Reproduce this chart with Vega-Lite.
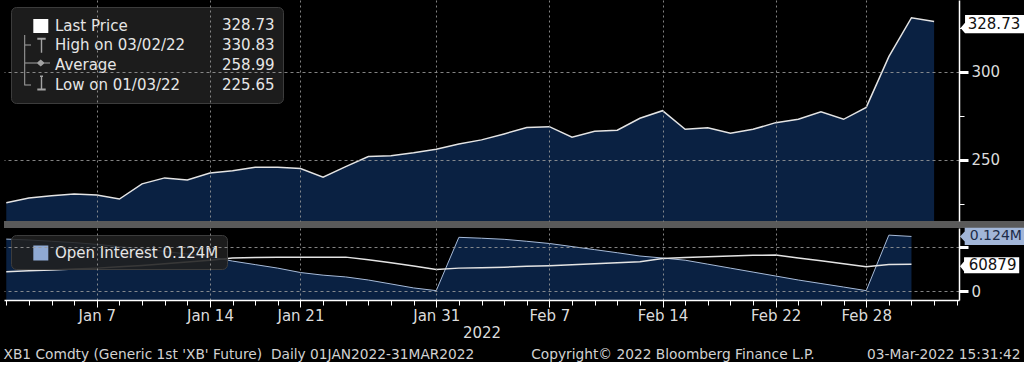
{
  "$schema": "https://vega.github.io/schema/vega-lite/v6.json",
  "background": "#000000",
  "padding": 0,
  "bounds": "flush",
  "spacing": 7,
  "config": {"font": "DejaVu Sans", "view": {"stroke": null}},
  "title": {
    "text": "XB1 Comdty (Generic 1st 'XB' Future)\u00a0\u00a0Daily 01JAN2022-31MAR2022\u00a0\u00a0\u00a0\u00a0\u00a0\u00a0\u00a0\u00a0\u00a0\u00a0\u00a0\u00a0\u00a0Copyright© 2022 Bloomberg Finance L.P.\u00a0\u00a0\u00a0\u00a0\u00a0\u00a0\u00a0\u00a0\u00a0\u00a0\u00a0\u00a003-Mar-2022 15:31:42",
    "orient": "bottom", "anchor": "start", "dx": 3, "offset": 8,
    "font": "DejaVu Sans", "fontSize": 13.75, "fontWeight": "normal", "color": "#d2d2d2"
  },
  "datasets": {
    "px": [
      {"date": "2022-01-03", "price": 225.65}, {"date": "2022-01-04", "price": 228.4}, {"date": "2022-01-05", "price": 229.7},
      {"date": "2022-01-06", "price": 230.7}, {"date": "2022-01-07", "price": 230.1}, {"date": "2022-01-10", "price": 227.8},
      {"date": "2022-01-11", "price": 236.4}, {"date": "2022-01-12", "price": 239.8}, {"date": "2022-01-13", "price": 238.6},
      {"date": "2022-01-14", "price": 242.6}, {"date": "2022-01-18", "price": 243.8}, {"date": "2022-01-19", "price": 245.9},
      {"date": "2022-01-20", "price": 245.9}, {"date": "2022-01-21", "price": 245.1}, {"date": "2022-01-24", "price": 240.2},
      {"date": "2022-01-25", "price": 246.2}, {"date": "2022-01-26", "price": 251.9}, {"date": "2022-01-27", "price": 252.4},
      {"date": "2022-01-28", "price": 254.1}, {"date": "2022-01-31", "price": 256.1}, {"date": "2022-02-01", "price": 259.1},
      {"date": "2022-02-02", "price": 261.4}, {"date": "2022-02-03", "price": 264.8}, {"date": "2022-02-04", "price": 268.4},
      {"date": "2022-02-07", "price": 268.9}, {"date": "2022-02-08", "price": 262.9}, {"date": "2022-02-09", "price": 266.3},
      {"date": "2022-02-10", "price": 266.9}, {"date": "2022-02-11", "price": 273.7}, {"date": "2022-02-14", "price": 278.0},
      {"date": "2022-02-15", "price": 267.4}, {"date": "2022-02-16", "price": 268.3}, {"date": "2022-02-17", "price": 265.2},
      {"date": "2022-02-18", "price": 267.4}, {"date": "2022-02-22", "price": 271.2}, {"date": "2022-02-23", "price": 273.1},
      {"date": "2022-02-24", "price": 277.4}, {"date": "2022-02-25", "price": 273.1}, {"date": "2022-02-28", "price": 279.9},
      {"date": "2022-03-01", "price": 308.7}, {"date": "2022-03-02", "price": 330.83}, {"date": "2022-03-03", "price": 328.73}
    ],
    "oi": [
      {"date": "2022-01-03", "oi": 118000, "oi2": 44000}, {"date": "2022-01-04", "oi": 116000, "oi2": 46000},
      {"date": "2022-01-05", "oi": 113000, "oi2": 48000}, {"date": "2022-01-06", "oi": 110000, "oi2": 50000},
      {"date": "2022-01-07", "oi": 106000, "oi2": 52000}, {"date": "2022-01-10", "oi": 101000, "oi2": 55000},
      {"date": "2022-01-11", "oi": 96000, "oi2": 58000}, {"date": "2022-01-12", "oi": 90000, "oi2": 62000},
      {"date": "2022-01-13", "oi": 84000, "oi2": 66000}, {"date": "2022-01-14", "oi": 78000, "oi2": 70000},
      {"date": "2022-01-18", "oi": 68000, "oi2": 75000}, {"date": "2022-01-19", "oi": 60000, "oi2": 76000},
      {"date": "2022-01-20", "oi": 52000, "oi2": 76500}, {"date": "2022-01-21", "oi": 42000, "oi2": 77000},
      {"date": "2022-01-24", "oi": 36000, "oi2": 77000}, {"date": "2022-01-25", "oi": 32000, "oi2": 77000},
      {"date": "2022-01-26", "oi": 25000, "oi2": 71000}, {"date": "2022-01-27", "oi": 16000, "oi2": 64000},
      {"date": "2022-01-28", "oi": 7000, "oi2": 57000}, {"date": "2022-01-31", "oi": 800, "oi2": 49000},
      {"date": "2022-02-01", "oi": 122000, "oi2": 52000}, {"date": "2022-02-02", "oi": 120000, "oi2": 53000},
      {"date": "2022-02-03", "oi": 117500, "oi2": 54000}, {"date": "2022-02-04", "oi": 113000, "oi2": 56000},
      {"date": "2022-02-07", "oi": 108000, "oi2": 57500}, {"date": "2022-02-08", "oi": 101000, "oi2": 59500},
      {"date": "2022-02-09", "oi": 94000, "oi2": 62000}, {"date": "2022-02-10", "oi": 87000, "oi2": 64000},
      {"date": "2022-02-11", "oi": 79500, "oi2": 66600}, {"date": "2022-02-14", "oi": 75000, "oi2": 74000},
      {"date": "2022-02-15", "oi": 70000, "oi2": 76000}, {"date": "2022-02-16", "oi": 61000, "oi2": 78000},
      {"date": "2022-02-17", "oi": 52000, "oi2": 79500}, {"date": "2022-02-18", "oi": 43000, "oi2": 81000},
      {"date": "2022-02-22", "oi": 34000, "oi2": 82000}, {"date": "2022-02-23", "oi": 25000, "oi2": 75000},
      {"date": "2022-02-24", "oi": 17000, "oi2": 68500}, {"date": "2022-02-25", "oi": 9000, "oi2": 62000},
      {"date": "2022-02-28", "oi": 800, "oi2": 55000}, {"date": "2022-03-01", "oi": 127000, "oi2": 60000},
      {"date": "2022-03-02", "oi": 124000, "oi2": 60879}
    ],
    "leg": [
      {"k": "Last Price"}, {"k": "328.73"}, {"k": "High on 03/02/22"}, {"k": "330.83"},
      {"k": "Average"}, {"k": "258.99"}, {"k": "Low on 01/03/22"}, {"k": "225.65"}
    ],
    "leg2": [{"k2": "Open Interest 0.124M"}]
  },
  "resolve": {"scale": {"x": "independent", "y": "independent", "color": "independent", "shape": "independent"}},
  "vconcat": [
    {
      "width": 955,
      "height": 221,
      "resolve": {"scale": {"x": "independent"}},
      "layer": [
        {
          "data": {"values": [{}]},
          "mark": {"type": "rule", "color": "#5a5a5a", "strokeWidth": 7, "clip": false},
          "encoding": {
            "x": {"datum": 0, "type": "quantitative", "scale": {"domain": [0, 955], "nice": false, "zero": false}, "axis": null},
            "x2": {"datum": 1024},
            "y": {"datum": 213.3, "type": "quantitative"}
          }
        },
        {
          "layer": [
            {
              "data": {"name": "px"},
              "mark": {"type": "area", "color": "#0a2142", "opacity": 1, "line": {"color": "#e4e4e4", "strokeWidth": 1.5}},
              "encoding": {
                "x": {
                  "field": "date", "type": "ordinal",
                  "scale": {"type": "point", "padding": 0.1, "domain": ["2022-01-03","2022-01-04","2022-01-05","2022-01-06","2022-01-07","2022-01-10","2022-01-11","2022-01-12","2022-01-13","2022-01-14","2022-01-18","2022-01-19","2022-01-20","2022-01-21","2022-01-24","2022-01-25","2022-01-26","2022-01-27","2022-01-28","2022-01-31","2022-02-01","2022-02-02","2022-02-03","2022-02-04","2022-02-07","2022-02-08","2022-02-09","2022-02-10","2022-02-11","2022-02-14","2022-02-15","2022-02-16","2022-02-17","2022-02-18","2022-02-22","2022-02-23","2022-02-24","2022-02-25","2022-02-28","2022-03-01","2022-03-02","2022-03-03","2022-03-04"]},
                  "axis": {
                    "title": null, "labels": false, "ticks": false, "domain": false,
                    "grid": true, "gridColor": "#9a9a9a", "gridDash": [2, 3], "gridWidth": 1,
                    "gridOpacity": {"condition": {"test": "datum.value == '2022-01-07' || datum.value == '2022-01-14' || datum.value == '2022-01-21' || datum.value == '2022-01-31' || datum.value == '2022-02-07' || datum.value == '2022-02-14' || datum.value == '2022-02-22' || datum.value == '2022-02-28'", "value": 0.85}, "value": 0},
                    "zindex": 1
                  }
                },
                "y": {
                  "field": "price", "type": "quantitative",
                  "scale": {"domain": [215.3, 340.9], "nice": false, "zero": false},
                  "axis": {
                    "orient": "right", "title": null, "values": [225, 250, 275, 300, 325],
                    "labelExpr": "datum.value == 250 || datum.value == 300 ? datum.label : ''",
                    "labelColor": "#dcdcdc", "labelFont": "DejaVu Sans", "labelFontSize": 15, "labelPadding": 3,
                    "tickColor": "#ffffff",
                    "tickSize": {"condition": {"test": "datum.value == 250 || datum.value == 300", "value": 9}, "value": 5},
                    "tickWidth": {"condition": {"test": "datum.value == 250 || datum.value == 300", "value": 3}, "value": 1},
                    "domainColor": "#ffffff", "domainWidth": 1.5,
                    "grid": true, "gridColor": "#9a9a9a", "gridDash": [3, 3],
                    "gridOpacity": {"condition": {"test": "datum.value == 250 || datum.value == 300", "value": 0.85}, "value": 0},
                    "zindex": 1
                  }
                },
                "y2": {"datum": 215.3}
              }
            },
            {
              "data": {"name": "leg"},
              "mark": {"type": "point", "filled": true, "opacity": 0},
              "encoding": {
                "color": {
                  "field": "k", "type": "nominal",
                  "scale": {
                    "domain": ["Last Price", "328.73", "High on 03/02/22", "330.83", "Average", "258.99", "Low on 01/03/22", "225.65"],
                    "range": ["#ffffff", "transparent", "#a3a3a3", "transparent", "#a3a3a3", "transparent", "#a3a3a3", "transparent"]
                  },
                  "legend": {
                    "title": null, "orient": "top-left", "offset": 7, "padding": 8, "columns": 2, "direction": "horizontal", "columnPadding": -29,
                    "rowPadding": 0, "symbolSize": 400, "symbolOpacity": 1, "symbolStrokeWidth": 0, "labelOffset": 16,
                    "labelFont": "DejaVu Sans", "labelFontSize": 15, "labelColor": "#e6e6e6", "labelLimit": 300,
                    "fillColor": "rgba(32,32,32,0.88)", "strokeColor": "#3c3c3c", "cornerRadius": 5,
                    "encode": {"symbols": {"update": {"opacity": {"value": 1}}}}
                  }
                },
                "shape": {
                  "field": "k", "type": "nominal",
                  "scale": {
                    "domain": ["Last Price", "328.73", "High on 03/02/22", "330.83", "Average", "258.99", "Low on 01/03/22", "225.65"],
                    "range": [
                      "M0.43,-0.7 L1.93,-0.7 L1.93,0.7 L0.43,0.7 Z",
                      "square",
                      "M-0.48,-1 L-0.38,-1 L-0.38,-0.05 L0.2,-0.05 L0.2,0.05 L-0.38,0.05 L-0.38,1 L-0.48,1 Z M0.83,-0.72 L1.67,-0.72 L1.67,-0.52 L1.32,-0.52 L1.32,0.78 L1.18,0.78 L1.18,-0.52 L0.83,-0.52 Z",
                      "square",
                      "M-0.48,-1 L-0.38,-1 L-0.38,1 L-0.48,1 Z M-0.38,-0.26 L0.82,-0.26 L1.17,-0.56 L1.52,-0.26 L2.1,-0.26 L2.1,-0.14 L1.52,-0.14 L1.17,0.16 L0.82,-0.14 L-0.38,-0.14 Z",
                      "square",
                      "M-0.48,-1 L-0.38,-1 L-0.38,-0.05 L0.2,-0.05 L0.2,0.05 L-0.48,0.05 Z M1.1,-0.95 L1.4,-0.95 L1.4,-0.8 L1.32,-0.8 L1.32,0.35 L1.67,0.35 L1.67,0.55 L0.83,0.55 L0.83,0.35 L1.18,0.35 L1.18,-0.8 L1.1,-0.8 Z",
                      "square"
                    ]
                  }
                }
              }
            },
            {
              "data": {"name": "px"},
              "transform": [{"filter": "datum.date == '2022-03-03'"}],
              "mark": {"type": "point", "filled": true, "opacity": 1, "strokeWidth": 0, "color": "#ffffff", "size": 20164,
                       "shape": "M0.054,0.094 L0.117,0.02 L0.117,-0.09 L0.969,-0.09 L0.969,0.168 L0.117,0.168 Z"},
              "encoding": {
                "x": {"datum": "2022-03-04", "type": "ordinal"},
                "y": {"field": "price", "type": "quantitative"}
              }
            },
            {
              "data": {"name": "px"},
              "transform": [{"filter": "datum.date == '2022-03-03'"}],
              "mark": {"type": "text", "align": "left", "baseline": "middle", "dx": 11, "dy": 3, "font": "DejaVu Sans", "fontSize": 15, "color": "#111111"},
              "encoding": {
                "x": {"datum": "2022-03-04", "type": "ordinal"},
                "y": {"field": "price", "type": "quantitative"},
                "text": {"field": "price", "type": "quantitative", "format": ".2f"}
              }
            }
          ]
        }
      ]
    },
    {
      "width": 955,
      "height": 72,
      "layer": [
        {
          "data": {"name": "oi"},
          "mark": {"type": "area", "color": "#0a2142", "opacity": 1, "line": {"color": "#a7bbd9", "strokeWidth": 1}},
          "encoding": {
            "x": {
              "field": "date", "type": "ordinal",
              "scale": {"type": "point", "padding": 0.1, "domain": ["2022-01-03","2022-01-04","2022-01-05","2022-01-06","2022-01-07","2022-01-10","2022-01-11","2022-01-12","2022-01-13","2022-01-14","2022-01-18","2022-01-19","2022-01-20","2022-01-21","2022-01-24","2022-01-25","2022-01-26","2022-01-27","2022-01-28","2022-01-31","2022-02-01","2022-02-02","2022-02-03","2022-02-04","2022-02-07","2022-02-08","2022-02-09","2022-02-10","2022-02-11","2022-02-14","2022-02-15","2022-02-16","2022-02-17","2022-02-18","2022-02-22","2022-02-23","2022-02-24","2022-02-25","2022-02-28","2022-03-01","2022-03-02","2022-03-03","2022-03-04"]},
              "axis": {
                "title": "2022", "titleColor": "#dcdcdc", "titleFont": "DejaVu Sans", "titleFontSize": 15, "titleFontWeight": "normal", "titlePadding": 2,
                "labelExpr": "(datum.value == '2022-01-07' || datum.value == '2022-01-14' || datum.value == '2022-01-21' || datum.value == '2022-01-31' || datum.value == '2022-02-07' || datum.value == '2022-02-14' || datum.value == '2022-02-22' || datum.value == '2022-02-28') ? utcFormat(toDate(datum.value), '%b %-d') : ''",
                "labelAngle": 0, "labelOverlap": false, "labelColor": "#dcdcdc", "labelFont": "DejaVu Sans", "labelFontSize": 15, "labelPadding": 1,
                "tickColor": "#ffffff", "tickWidth": 1,
                "tickSize": {"condition": {"test": "datum.value == '2022-01-07' || datum.value == '2022-01-14' || datum.value == '2022-01-21' || datum.value == '2022-01-31' || datum.value == '2022-02-07' || datum.value == '2022-02-14' || datum.value == '2022-02-22' || datum.value == '2022-02-28'", "value": 7}, "value": 5},
                "domainColor": "#ffffff", "domainWidth": 1.5,
                "grid": true, "gridColor": "#9a9a9a", "gridDash": [2, 3], "gridWidth": 1,
                "gridOpacity": {"condition": {"test": "datum.value == '2022-01-07' || datum.value == '2022-01-14' || datum.value == '2022-01-21' || datum.value == '2022-01-31' || datum.value == '2022-02-07' || datum.value == '2022-02-14' || datum.value == '2022-02-22' || datum.value == '2022-02-28'", "value": 0.85}, "value": 0},
                "zindex": 1
              }
            },
            "y": {
              "field": "oi", "type": "quantitative",
              "scale": {"domain": [-20450, 143200], "nice": false, "zero": false},
              "axis": {
                "orient": "right", "title": null, "values": [0, 50000, 100000],
                "labelExpr": "datum.value == 0 ? '0' : ''",
                "labelColor": "#dcdcdc", "labelFont": "DejaVu Sans", "labelFontSize": 15, "labelPadding": 3,
                "tickColor": "#ffffff",
                "tickSize": {"condition": {"test": "datum.value == 0 || datum.value == 100000", "value": 9}, "value": 5},
                "tickWidth": {"condition": {"test": "datum.value == 0 || datum.value == 100000", "value": 3}, "value": 1},
                "domainColor": "#ffffff", "domainWidth": 1.5,
                "grid": true, "gridColor": "#9a9a9a", "gridDash": [3, 3],
                "gridOpacity": {"condition": {"test": "datum.value == 0 || datum.value == 100000", "value": 0.85}, "value": 0},
                "zindex": 1
              }
            },
            "y2": {"datum": -20450}
          }
        },
        {
          "data": {"name": "oi"},
          "mark": {"type": "line", "color": "#e4e4e4", "strokeWidth": 1.5},
          "encoding": {
            "x": {"field": "date", "type": "ordinal"},
            "y": {"field": "oi2", "type": "quantitative"}
          }
        },
        {
          "data": {"name": "leg2"},
          "mark": {"type": "point", "filled": true, "opacity": 0},
          "encoding": {
            "color": {
              "field": "k2", "type": "nominal",
              "scale": {"domain": ["Open Interest 0.124M"], "range": ["#8fa9d3"]},
              "legend": {
                "title": null, "orient": "top-left", "offset": 7, "padding": 8,
                "rowPadding": 0, "symbolSize": 400, "symbolOpacity": 1, "symbolStrokeWidth": 0, "labelOffset": 16,
                "labelFont": "DejaVu Sans", "labelFontSize": 15, "labelColor": "#e6e6e6", "labelLimit": 300,
                "fillColor": "rgba(32,32,32,0.88)", "strokeColor": "#3c3c3c", "cornerRadius": 5,
                "encode": {"symbols": {"update": {"opacity": {"value": 1}}}}
              }
            },
            "shape": {
              "field": "k2", "type": "nominal",
              "scale": {"domain": ["Open Interest 0.124M"], "range": ["M0.43,-0.75 L1.93,-0.75 L1.93,0.75 L0.43,0.75 Z"]}
            }
          }
        },
        {
          "data": {"name": "oi"},
          "transform": [{"filter": "datum.date == '2022-03-02'"}],
          "mark": {"type": "point", "filled": true, "opacity": 1, "strokeWidth": 0, "color": "#a2b6d8", "size": 20164,
                   "shape": "M0.046,0 L0.112,-0.07 L0.112,-0.121 L0.985,-0.121 L0.985,0.121 L0.112,0.121 L0.112,0.07 Z"},
          "encoding": {
            "x": {"datum": "2022-03-04", "type": "ordinal"},
            "y": {"field": "oi", "type": "quantitative"}
          }
        },
        {
          "data": {"name": "oi"},
          "transform": [{"filter": "datum.date == '2022-03-02'"}, {"calculate": "format(datum.oi / 1000000, '.3f') + 'M'", "as": "lbl"}],
          "mark": {"type": "text", "align": "left", "baseline": "middle", "dx": 13, "dy": 0, "font": "DejaVu Sans", "fontSize": 14, "color": "#1c2c48"},
          "encoding": {
            "x": {"datum": "2022-03-04", "type": "ordinal"},
            "y": {"field": "oi", "type": "quantitative"},
            "text": {"field": "lbl", "type": "nominal"}
          }
        },
        {
          "data": {"name": "oi"},
          "transform": [{"filter": "datum.date == '2022-03-02'"}],
          "mark": {"type": "point", "filled": true, "opacity": 1, "strokeWidth": 0, "color": "#ffffff", "size": 20164,
                   "shape": "M0.046,0.03 L0.103,-0.04 L0.103,-0.097 L0.88,-0.097 L0.88,0.128 L0.103,0.128 L0.103,0.1 Z"},
          "encoding": {
            "x": {"datum": "2022-03-04", "type": "ordinal"},
            "y": {"field": "oi2", "type": "quantitative"}
          }
        },
        {
          "data": {"name": "oi"},
          "transform": [{"filter": "datum.date == '2022-03-02'"}],
          "mark": {"type": "text", "align": "left", "baseline": "middle", "dx": 12, "dy": 1, "font": "DejaVu Sans", "fontSize": 15, "color": "#111111"},
          "encoding": {
            "x": {"datum": "2022-03-04", "type": "ordinal"},
            "y": {"field": "oi2", "type": "quantitative"},
            "text": {"field": "oi2", "type": "quantitative", "format": "d"}
          }
        }
      ]
    }
  ]
}
